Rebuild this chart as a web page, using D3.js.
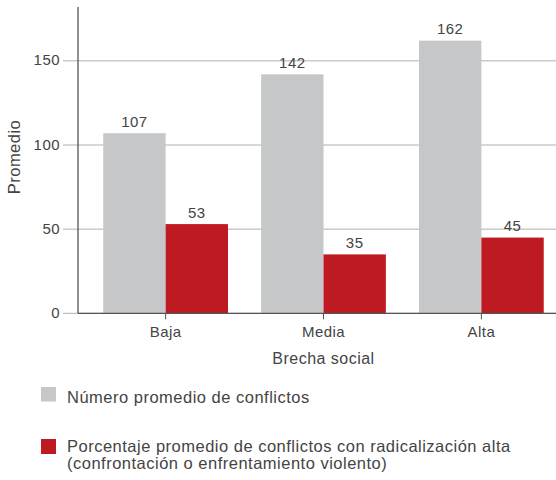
<!DOCTYPE html>
<html>
<head>
<meta charset="utf-8">
<script src="https://cdn.jsdelivr.net/npm/d3@7"></script>
<style>
  body { margin: 0; background: #fff; }
  text { font-family: "Liberation Sans", Arial, sans-serif; fill: #444; letter-spacing: 0.03em; }
</style>
</head>
<body>
<script>
// Data
const categories = ["Baja", "Media", "Alta"];
const conflictos = [107, 142, 162];
const radicalizacion = [53, 35, 45];
const yTicks = [0, 50, 100, 150];
const seriesNames = ["Número promedio de conflictos",
    "Porcentaje promedio de conflictos con radicalización alta"];
const colors = ["#c6c7c9", "#be1a21"];

const width = 556,
    height = 480,
    plotLeft = 78,
    plotTop = 7,
    plotBottom = 313.3;

let svg = d3.select('body').append('svg')
    .attr('width', width)
    .attr('height', height);

let y = d3.scaleLinear()
    .domain([0, 182])
    .range([plotBottom, plotTop]);

let x = d3.scaleBand()
    .domain(categories)
    .range([plotLeft, 569])
    .paddingInner(0.21)
    .paddingOuter(0.16);

let sub = d3.scaleBand()
    .domain([0, 1])
    .range([0, x.bandwidth()]);

// grid lines + y ticks
let grid = svg.append('g');
grid.selectAll('line').data(yTicks).enter().append('line')
    .attr('x1', plotLeft - 15)
    .attr('x2', width)
    .attr('y1', d => y(d))
    .attr('y2', d => y(d))
    .attr('stroke', '#b0b0b0')
    .attr('stroke-width', 1);

grid.selectAll('text').data(yTicks).enter().append('text')
    .attr('x', plotLeft - 18)
    .attr('y', d => y(d) + 4.5)
    .attr('text-anchor', 'end')
    .attr('font-size', 15)
    .text(d => d);

// bars
let groups = svg.append('g').selectAll('g')
    .data(categories).enter().append('g')
    .attr('transform', d => 'translate(' + x(d) + ',0)');

groups.each(function(c, i) {
    let g = d3.select(this);
    [conflictos[i], radicalizacion[i]].forEach(function(v, j) {
        g.append('rect')
            .attr('x', sub(j))
            .attr('y', y(v))
            .attr('width', sub.bandwidth())
            .attr('height', plotBottom - y(v))
            .attr('fill', colors[j]);
        g.append('text')
            .attr('x', sub(j) + sub.bandwidth() / 2)
            .attr('y', y(v) - 6.5)
            .attr('text-anchor', 'middle')
            .attr('font-size', 15)
            .text(v);
    });
});

// axes lines
svg.append('line')
    .attr('x1', plotLeft).attr('x2', plotLeft)
    .attr('y1', plotTop).attr('y2', plotBottom)
    .attr('stroke', '#555').attr('stroke-width', 1.3);

svg.append('line')
    .attr('x1', plotLeft).attr('x2', width)
    .attr('y1', plotBottom).attr('y2', plotBottom)
    .attr('stroke', '#555').attr('stroke-width', 1.3);

// x ticks and labels
let xt = svg.append('g').selectAll('g')
    .data(categories).enter().append('g')
    .attr('transform', d => 'translate(' + (x(d) + x.bandwidth() / 2) + ',' + plotBottom + ')');

xt.append('line')
    .attr('y1', 0).attr('y2', 6)
    .attr('stroke', '#555');

xt.append('text')
    .attr('y', 24)
    .attr('text-anchor', 'middle')
    .attr('font-size', 15)
    .text(d => d);

svg.append('text')
    .attr('x', x('Media') + x.bandwidth() / 2)
    .attr('y', 364)
    .attr('text-anchor', 'middle')
    .attr('font-size', 16)
    .text('Brecha social');

svg.append('text')
    .attr('transform', 'translate(20,157) rotate(-90)')
    .attr('text-anchor', 'middle')
    .attr('font-size', 16.5)
    .text('Promedio');

// legend
let legend = svg.append('g')
    .style('letter-spacing', '0.2px');
legend.append('rect')
    .attr('x', 41).attr('y', 387)
    .attr('width', 15).attr('height', 14.5)
    .attr('fill', colors[0]);
legend.append('text')
    .attr('x', 67).attr('y', 403)
    .attr('font-size', 16.5)
    .text(seriesNames[0]);

legend.append('rect')
    .attr('x', 41).attr('y', 439)
    .attr('width', 15).attr('height', 15)
    .attr('fill', colors[1]);
legend.append('text')
    .attr('x', 67).attr('y', 451.5)
    .attr('font-size', 16.5)
    .text(seriesNames[1]);
legend.append('text')
    .attr('x', 67).attr('y', 469)
    .attr('font-size', 16.5)
    .text('(confrontación o enfrentamiento violento)');
</script>
</body>
</html>
